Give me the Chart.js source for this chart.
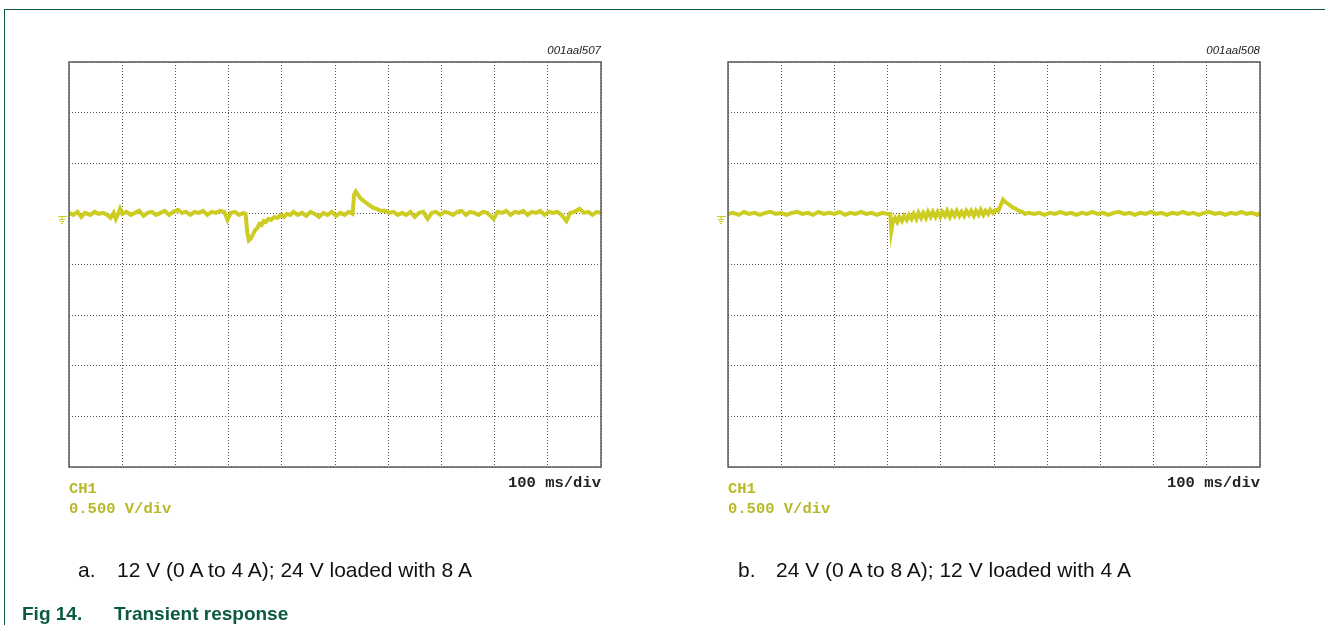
<!DOCTYPE html>
<html>
<head>
<meta charset="utf-8">
<script src="https://cdn.jsdelivr.net/npm/chart.js@4"></script>
<style>
  body { margin: 0; background: #fff; width: 1325px; height: 625px; overflow: hidden; position: relative; font-family: "Liberation Sans", Arial, sans-serif; }
  .frame-top { position: absolute; left: 4px; top: 9px; width: 1321px; border-top: 1.5px solid #0b5a43; }
  .frame-left { position: absolute; left: 4px; top: 9px; height: 616px; border-left: 1.5px solid #0b5a43; }
  .plot { position: absolute; top: 47px; }
  .code { position: absolute; top: 45px; font: italic 11.5px "Liberation Sans", Arial, sans-serif; line-height: 11.5px; color: #222; }
  .scope { position: absolute; font: bold 15.5px "Liberation Mono", "Courier New", monospace; line-height: 15.5px; white-space: pre; }
  .ch { color: #b8b82a; }
  .tdiv { color: #222; top: 476px; }
  .cap { position: absolute; top: 559px; font-size: 21px; line-height: 21px; color: #111; white-space: nowrap; }
  .fig { position: absolute; top: 604px; font: bold 19px "Liberation Sans", Arial, sans-serif; line-height: 19px; color: #0b5a43; white-space: nowrap; }
</style>
</head>
<body>
<div class="frame-top"></div>
<div class="frame-left"></div>

<div class="plot" style="left:54px"><canvas id="scopeA" width="562" height="435"></canvas></div>
<div class="plot" style="left:713px"><canvas id="scopeB" width="562" height="435"></canvas></div>

<div class="code" style="right:724px">001aal507</div>
<div class="code" style="right:65px">001aal508</div>

<div class="scope ch" style="left:69px; top:482px">CH1</div>
<div class="scope ch" style="left:69px; top:502px">0.500 V/div</div>
<div class="scope tdiv" style="right:724px">100 ms/div</div>

<div class="scope ch" style="left:728px; top:482px">CH1</div>
<div class="scope ch" style="left:728px; top:502px">0.500 V/div</div>
<div class="scope tdiv" style="right:65px">100 ms/div</div>

<div class="cap" style="left:78px">a.</div>
<div class="cap" style="left:117px">12 V (0 A to 4 A); 24 V loaded with 8 A</div>
<div class="cap" style="left:738px">b.</div>
<div class="cap" style="left:776px">24 V (0 A to 8 A); 12 V loaded with 4 A</div>

<div class="fig" style="left:22px">Fig 14.</div>
<div class="fig" style="left:114px">Transient response</div>

<script>
// screen: 10 divisions of 100 ms, 8 divisions of 0.5 V, trace ground one division above centre
const timeMin = 0, timeMax = 1000, timePerDiv = 100;
const voltMin = -2.5, voltMax = 1.5, voltsPerDiv = 0.5;

// trace a: 12 V output, load step 0 A -> 4 A (ms, V)
const leftTimes = [
  0, 8, 16, 23, 30, 40, 48, 56, 64, 72,
  78, 84, 88, 94, 96, 100, 108, 116, 124, 132,
  140, 148, 156, 164, 172, 180, 188, 196, 205, 212,
  220, 228, 236, 244, 252, 260, 268, 276, 284, 292,
  298, 304, 312, 320, 328, 332, 335, 338, 342, 346,
  350, 354, 358, 362, 366, 370, 375, 380, 386, 392,
  398, 404, 410, 416, 422, 430, 438, 446, 454, 462,
  470, 478, 486, 494, 502, 510, 518, 526, 533, 536,
  539, 543, 547, 551, 556, 561, 566, 572, 578, 586,
  594, 602, 610, 618, 626, 634, 642, 650, 658, 666,
  674, 682, 690, 698, 706, 714, 722, 730, 738, 746,
  754, 762, 770, 778, 786, 798, 806, 814, 822, 830,
  838, 846, 854, 862, 870, 878, 886, 894, 902, 910,
  918, 926, 935, 942, 950, 960, 968, 976, 984, 992, 1000
];
const leftVolts = [
  0.01, -0.01, 0.02, -0.03, 0.01, -0.01, 0.02, 0, 0.01, -0.01,
  -0.04, 0.01, -0.05, 0.02, 0.05, 0, 0.02, -0.01, 0.01, 0.03,
  -0.02, 0.01, 0.02, -0.01, 0.01, 0.03, -0.01, 0.02, 0.04, 0.01,
  0.02, -0.01, 0.02, 0.01, 0.03, -0.01, 0.02, 0.01, 0.03, 0.02,
  -0.06, 0.01, 0.02, -0.01, 0.01, 0, -0.18, -0.26, -0.24, -0.2,
  -0.16, -0.14, -0.1, -0.11, -0.07, -0.08, -0.05, -0.06, -0.03, -0.04,
  -0.01, -0.03, 0, -0.01, 0.02, -0.01, 0.01, -0.02, 0.02, 0,
  -0.03, 0.01, -0.01, 0.02, -0.02, 0.01, -0.01, 0.02, 0, 0.19,
  0.22, 0.19, 0.16, 0.14, 0.12, 0.1, 0.08, 0.06, 0.05, 0.03,
  0.03, 0.01, 0.02, -0.01, 0.01, -0.01, 0.02, -0.03, 0.01, 0.02,
  -0.05, 0.01, 0.02, -0.01, 0.02, 0.01, -0.01, 0.02, 0.03, -0.01,
  0.02, 0.01, -0.01, 0.02, 0.01, -0.05, 0.02, 0.01, 0.03, -0.01,
  0.02, 0.01, 0.03, -0.01, 0.02, 0.01, 0.03, -0.01, 0.02, 0.01,
  0.02, -0.01, -0.07, 0.01, 0.02, 0.05, 0.01, 0.02, -0.01, 0.02, 0.01
];

// trace b: 24 V output, load step 0 A -> 8 A (ms, V)
const rightTimes = [
  0, 10, 20, 30, 40, 50, 60, 70, 80, 90,
  100, 110, 120, 130, 140, 150, 160, 170, 180, 190,
  200, 210, 220, 230, 240, 250, 260, 270, 280, 290,
  300, 305, 307, 310, 314, 318, 322, 327, 331, 336,
  340, 345, 349, 354, 358, 363, 367, 372, 376, 381,
  385, 390, 394, 399, 403, 408, 412, 417, 421, 426,
  430, 435, 439, 444, 448, 453, 457, 462, 466, 471,
  475, 480, 484, 489, 493, 498, 503, 508, 513, 517,
  521, 526, 531, 536, 541, 547, 553, 558, 565, 575,
  585, 595, 605, 615, 625, 635, 645, 655, 665, 675,
  685, 695, 705, 715, 725, 735, 745, 755, 765, 775,
  785, 795, 805, 815, 825, 835, 845, 855, 865, 875,
  885, 895, 905, 915, 925, 935, 945, 955, 965, 975, 985, 995, 1000
];
const rightVolts = [
  0, 0.01, -0.01, 0.02, 0, 0.01, -0.01, 0.01, 0.02, 0,
  0.01, -0.01, 0.01, 0.02, 0, 0.01, -0.01, 0.02, 0, 0.01,
  0, 0.02, -0.01, 0.01, 0, 0.02, 0, 0.01, -0.01, 0.01,
  0, 0, -0.17, -0.08, -0.04, -0.08, -0.03, -0.07, -0.02, -0.06,
  -0.01, -0.05, 0, -0.05, 0.01, -0.04, 0.01, -0.04, 0.02, -0.03,
  0.02, -0.03, 0.02, -0.03, 0.02, -0.02, 0.03, -0.03, 0.02, -0.02,
  0.03, -0.02, 0.02, -0.02, 0.03, -0.01, 0.03, -0.02, 0.03, -0.01,
  0.04, -0.01, 0.03, 0, 0.04, 0.01, 0.04, 0.03, 0.09, 0.14,
  0.12, 0.1, 0.08, 0.06, 0.05, 0.03, 0.02, 0, 0.01, 0,
  0.01, -0.01, 0.01, 0, 0.02, 0, 0.01, -0.01, 0.01, 0,
  0.02, 0, 0.01, -0.01, 0.01, 0.02, 0, 0.01, -0.01, 0.01,
  0, 0.02, 0, 0.01, -0.01, 0.01, 0, 0.02, 0, 0.01,
  -0.01, 0.01, 0.02, 0, 0.01, -0.01, 0.01, 0, 0.02, 0, 0.01, -0.01, 0.01
];

const traceColor = '#cccc22';

// graticule border + ground reference marker on the left edge
const scopeFrame = {
  id: 'scopeFrame',
  afterDraw(chart) {
    const { ctx, chartArea: a, scales } = chart;
    ctx.save();
    ctx.strokeStyle = '#5a5a5a';
    ctx.lineWidth = 1.5;
    ctx.strokeRect(a.left, a.top, a.right - a.left, a.bottom - a.top);

    const y = Math.round(scales.y.getPixelForValue(0)) + 2.5;
    const x = a.left;
    ctx.strokeStyle = traceColor;
    ctx.lineWidth = 1;
    ctx.beginPath();
    ctx.moveTo(x - 11, y); ctx.lineTo(x - 2, y);
    ctx.moveTo(x - 7, y); ctx.lineTo(x - 7, y + 3);
    ctx.moveTo(x - 10, y + 3); ctx.lineTo(x - 4, y + 3);
    ctx.moveTo(x - 9, y + 5); ctx.lineTo(x - 5, y + 5);
    ctx.moveTo(x - 8, y + 7); ctx.lineTo(x - 6, y + 7);
    ctx.stroke();
    ctx.restore();
  }
};

function makeScope(canvasId, times, volts) {
  const points = times.map((t, i) => ({ x: t, y: volts[i] }));
  return new Chart(document.getElementById(canvasId), {
    type: 'line',
    data: {
      datasets: [{
        data: points,
        borderColor: traceColor,
        borderWidth: 4,
        pointRadius: 0,
        tension: 0,
        fill: false
      }]
    },
    options: {
      responsive: false,
      animation: false,
      layout: { padding: 15 },
      plugins: { legend: { display: false }, tooltip: { enabled: false } },
      scales: {
        x: {
          type: 'linear',
          min: timeMin,
          max: timeMax,
          ticks: { display: false, stepSize: timePerDiv },
          grid: { color: '#555', lineWidth: 1, drawTicks: false },
          border: { display: false, dash: [1, 2] }
        },
        y: {
          type: 'linear',
          min: voltMin,
          max: voltMax,
          ticks: { display: false, stepSize: voltsPerDiv },
          grid: { color: '#555', lineWidth: 1, drawTicks: false },
          border: { display: false, dash: [1, 2] }
        }
      }
    },
    plugins: [scopeFrame]
  });
}

makeScope('scopeA', leftTimes, leftVolts);
makeScope('scopeB', rightTimes, rightVolts);
</script>
</body>
</html>
